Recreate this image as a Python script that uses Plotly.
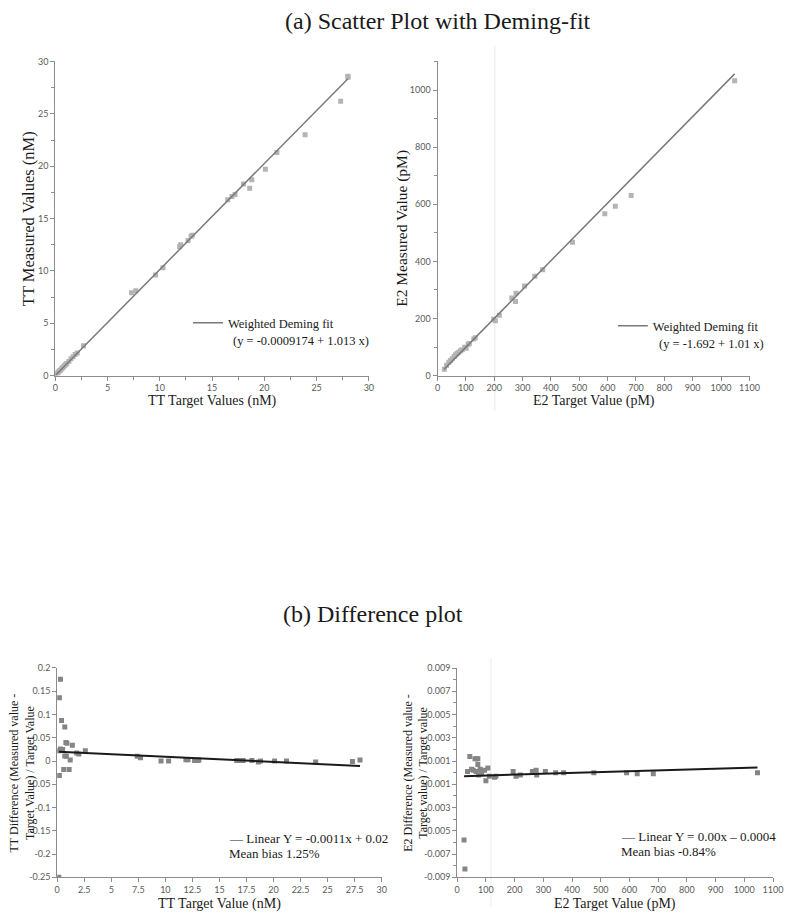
import numpy as np
import plotly.graph_objects as go

# ---------------- data ----------------
tt_target = [0.1, 0.2, 0.3, 0.4, 0.5, 0.6, 0.7, 0.8, 0.9, 1.0, 1.1, 1.3, 1.5, 1.7, 1.9, 2.1, 2.7,
             7.3, 7.7, 9.6, 10.3, 11.9, 12.0, 12.7, 13.0, 13.1, 16.5, 16.9, 17.2, 18.0, 18.6,
             18.8, 20.1, 21.2, 23.9, 27.3, 28.0, 28.0]
tt_measured = [0.1, 0.25, 0.35, 0.45, 0.5, 0.65, 0.75, 0.85, 0.95, 1.05, 1.15, 1.35, 1.6, 1.8, 2.0, 2.15, 2.85,
               7.9, 8.1, 9.6, 10.3, 12.3, 12.5, 12.9, 13.3, 13.4, 16.8, 17.1, 17.3, 18.3, 17.9,
               18.7, 19.7, 21.3, 23.0, 26.2, 28.5, 28.6]
tt_deming = {"intercept": -0.0009174, "slope": 1.013}

e2_target = [24, 32, 40, 46, 52, 59, 64, 69, 75, 81, 87, 96, 101, 108, 112, 128, 133,
             198, 204, 218, 262, 277, 275, 307, 343, 371, 476, 590, 627, 683, 1048]
e2_measured = [22, 36, 47, 53, 59, 67, 73, 77, 82, 87, 90, 99, 96, 109, 112, 128, 132,
               197, 192, 211, 272, 288, 259, 314, 348, 371, 467, 567, 593, 631, 1033]
e2_deming = {"intercept": -1.692, "slope": 1.01}

tt_diff_x = [0.15, 0.2, 0.2, 0.2, 0.3, 0.3, 0.4, 0.5, 0.6, 0.7, 0.7, 0.8, 0.85, 0.9, 1.1, 1.2, 1.4,
             1.8, 2.0, 2.6, 7.4, 7.7, 9.6, 10.3, 11.9, 12.1, 12.7, 13.0, 13.1, 16.6, 16.9, 17.2,
             18.0, 18.6, 18.8, 20.1, 21.2, 23.9, 27.3, 28.0]
tt_diff_y = [-0.25, 0.136, 0.022, -0.031, 0.176, 0.026, 0.087, 0.025, -0.018, 0.073, 0.011, 0.040,
             0.010, 0.038, -0.018, 0.002, 0.034, 0.017, 0.015, 0.022, 0.010, 0.007, 0.0, 0.0,
             0.003, 0.003, 0.001, 0.001, 0.002, 0.001, 0.001, 0.001, 0.001, -0.002, 0.0, 0.0,
             0.0, -0.002, -0.001, 0.002]
tt_diff_fit = {"intercept": 0.02, "slope": -0.0011}

e2_diff_x = [24, 27, 36, 44, 50, 56, 62, 66, 68, 72, 72, 75, 80, 85, 95, 100, 107, 112, 130, 135,
             195, 205, 220, 262, 275, 277, 307, 343, 371, 476, 590, 627, 683, 1046]
e2_diff_y = [-0.0058, -0.0083, 0.0001, 0.0014, 0.0003, 0.0002, 0.0012, 0.0001, 0.0012, 0.0012,
             0.0007, -0.0002, 0.0003, 0.0, 0.0002, -0.0007, 0.0004, -0.0003, -0.0004, -0.0003,
             0.0001, -0.0003, -0.0002, 0.0001, 0.0002, -0.0002, 0.0001, 0.0, 0.0, 0.0, 0.0,
             -0.0001, -0.0001, 0.0]
e2_diff_fit = {"intercept": -0.000318, "slope": 7.34e-7}

tt_diff_ticks = [0.2, 0.15, 0.1, 0.05, 0, -0.05, -0.1, -0.15, -0.2, -0.25]
tt_diff_ticktext = ["0.2", "0.15", "0.1", "0.05", "0", "-0.05", "-0.1", "-0.15", "-0.2", "-0.25"]
e2_diff_ticks = [0.009, 0.007, 0.005, 0.003, 0.001, -0.001, -0.003, -0.005, -0.007, -0.009]
e2_diff_ticktext = ["0.009", "0.007", "0.005", "0.003", "0.001", "-0.001", "-0.003", "-0.005", "-0.007", "-0.009"]
tt_diff_xticks = [0, 2.5, 5, 7.5, 10, 12.5, 15, 17.5, 20, 22.5, 25, 27.5, 30]
tt_diff_xticktext = ["0", "2.5", "5", "7.5", "10", "12.5", "15", "17.5", "20", "22.5", "25", "27.5", "30"]

# ---------------- styles ----------------
PAGE_W, PAGE_H = 800, 920
BODY = 8  # default page margin around the plot div
W, H = PAGE_W - 2 * BODY, PAGE_H - 2 * BODY
SERIF = "Liberation Serif, Times New Roman, serif"
SANS = "Lato, Liberation Sans, sans-serif"
AX = "#8c8c8c"
TICKFONT = dict(family=SANS, size=9, color="#5a5a5a")


def px_x(p):
    return (p - BODY) / W


def px_y(p):
    return 1 - (p - BODY) / H


def fit_line(xs, fit):
    x = np.array([min(xs), max(xs)], dtype=float)
    return x, fit["intercept"] + fit["slope"] * x


fig = go.Figure()

# (a) TT scatter
fig.add_trace(go.Scatter(x=tt_target, y=tt_measured, mode="markers", showlegend=False,
                         marker=dict(symbol="square", size=5, color="#b4b4b4"),
                         xaxis="x", yaxis="y"))
lx, ly = fit_line([0] + tt_target, tt_deming)
fig.add_trace(go.Scatter(x=lx, y=ly, mode="lines", name="Weighted Deming fit",
                         line=dict(color="#7a7a7a", width=1.5), legend="legend",
                         xaxis="x", yaxis="y"))
# (a) E2 scatter
fig.add_trace(go.Scatter(x=e2_target, y=e2_measured, mode="markers", showlegend=False,
                         marker=dict(symbol="square", size=5, color="#b4b4b4"),
                         xaxis="x2", yaxis="y2"))
lx, ly = fit_line(e2_target, e2_deming)
fig.add_trace(go.Scatter(x=lx, y=ly, mode="lines", name="Weighted Deming fit",
                         line=dict(color="#7a7a7a", width=1.5), legend="legend2",
                         xaxis="x2", yaxis="y2"))
# (b) TT difference
fig.add_trace(go.Scatter(x=tt_diff_x, y=tt_diff_y, mode="markers", showlegend=False,
                         marker=dict(symbol="square", size=5, color="#858585"),
                         xaxis="x3", yaxis="y3"))
lx, ly = fit_line(tt_diff_x, tt_diff_fit)
fig.add_trace(go.Scatter(x=lx, y=ly, mode="lines", showlegend=False,
                         line=dict(color="#1a1a1a", width=2), xaxis="x3", yaxis="y3"))
# (b) E2 difference
fig.add_trace(go.Scatter(x=e2_diff_x, y=e2_diff_y, mode="markers", showlegend=False,
                         marker=dict(symbol="square", size=5, color="#858585"),
                         xaxis="x4", yaxis="y4"))
lx, ly = fit_line(e2_diff_x, e2_diff_fit)
fig.add_trace(go.Scatter(x=lx, y=ly, mode="lines", showlegend=False,
                         line=dict(color="#1a1a1a", width=2), xaxis="x4", yaxis="y4"))


def axis(domain, rng, **kw):
    d = dict(domain=domain, range=rng, showline=True, linecolor=AX, linewidth=1,
             ticks="outside", ticklen=4, tickcolor=AX, showgrid=False, zeroline=False,
             tickfont=TICKFONT, fixedrange=True)
    d.update(kw)
    return d


top_dom = [px_y(374), px_y(56)]
bot_dom = [px_y(882), px_y(670)]

fig.update_layout(
    width=W, height=H, margin=dict(l=0, r=0, t=0, b=0),
    paper_bgcolor="white", plot_bgcolor="white",
    xaxis=axis([px_x(53), px_x(372)], [0, 30.01], dtick=5, tick0=0, anchor="y",
               minor=dict(dtick=2.5, ticks="outside", ticklen=3, tickcolor=AX)),
    yaxis=axis(top_dom, [0, 30.01], dtick=5, tick0=0, anchor="x",
               minor=dict(dtick=2.5, ticks="outside", ticklen=3, tickcolor=AX)),
    xaxis2=axis([px_x(441.7), px_x(759)], [0, 1100.5], dtick=100, tick0=0, anchor="y2"),
    yaxis2=axis(top_dom, [0, 1100.5], dtick=200, tick0=0, anchor="x2",
                minor=dict(dtick=100, ticks="outside", ticklen=3, tickcolor=AX)),
    xaxis3=axis([px_x(55), px_x(385)], [0, 30.01], tickmode="array", tickvals=tt_diff_xticks,
                ticktext=tt_diff_xticktext, anchor="y3"),
    yaxis3=axis(bot_dom, [-0.2501, 0.2001], tickmode="array", tickvals=tt_diff_ticks,
                ticktext=tt_diff_ticktext, anchor="x3"),
    xaxis4=axis([px_x(461.7), px_x(783)], [0, 1100.5], dtick=100, tick0=0, anchor="y4"),
    yaxis4=axis(bot_dom, [-0.00901, 0.00901], tickmode="array", tickvals=e2_diff_ticks,
                ticktext=e2_diff_ticktext, anchor="x4",
                minor=dict(dtick=0.001, tick0=0, ticks="outside", ticklen=3, tickcolor=AX)),
    legend=dict(x=px_x(188), y=px_y(321), xanchor="left", yanchor="middle",
                font=dict(family=SERIF, size=12.5, color="#222"), bgcolor="rgba(0,0,0,0)",
                borderwidth=0, itemwidth=30, tracegroupgap=0),
    legend2=dict(x=px_x(620), y=px_y(324), xanchor="left", yanchor="middle",
                 font=dict(family=SERIF, size=12.5, color="#222"), bgcolor="rgba(0,0,0,0)",
                 borderwidth=0, itemwidth=30, tracegroupgap=0),
)

ann = []


def text(x, y, t, size, xanchor="center", angle=0, color="#1a1a1a"):
    ann.append(dict(x=px_x(x), y=px_y(y), xref="paper", yref="paper", text=t, showarrow=False,
                    xanchor=xanchor, yanchor="middle", textangle=angle, align="center",
                    font=dict(family=SERIF, size=size, color=color)))


# panel titles
text(442, 15, "(a) Scatter Plot with Deming-fit", 24)
text(376, 615, "(b) Difference plot", 24)
# axis titles
text(213, 400, "TT Target Values (nM)", 14)
text(601, 400, "E2 Target Value (pM)", 14)
text(220, 909, "TT Target Value (nM)", 14)
text(622, 909, "E2 Target Value (pM)", 14)
text(26, 215, "TT Measured Values (nM)", 16.5, angle=-90)
text(406, 225, "E2 Measured Value (pM)", 15.5, angle=-90)
text(19, 776, "TT Difference (Measured value -<br>Target Value) / Target Value", 12, angle=-90)
text(419, 776, "E2 Difference (Measured value -<br>Target value) / Target value", 12, angle=-90)
# legend extras
text(232, 339, "(y = -0.0009174 + 1.013 x)", 12.5, xanchor="left")
text(665, 342, "(y = -1.692 + 1.01 x)", 12.5, xanchor="left")
text(228, 843, "— Linear Y = -0.0011x + 0.02", 13, xanchor="left")
text(228, 858, "Mean bias 1.25%", 13, xanchor="left")
text(626, 841, "— Linear Y = 0.00x – 0.0004", 13, xanchor="left")
text(626, 856, "Mean bias -0.84%", 13, xanchor="left")

fig.update_layout(annotations=ann)

# faint image-seam lines present in the reference
fig.add_shape(type="line", xref="paper", yref="paper", x0=px_x(500), x1=px_x(500),
              y0=px_y(410), y1=px_y(40), line=dict(color="#ececec", width=1), layer="below")
fig.add_shape(type="line", xref="paper", yref="paper", x0=px_x(496), x1=px_x(496),
              y0=px_y(912), y1=px_y(660), line=dict(color="#ececec", width=1), layer="below")

fig.write_html("out.html")
